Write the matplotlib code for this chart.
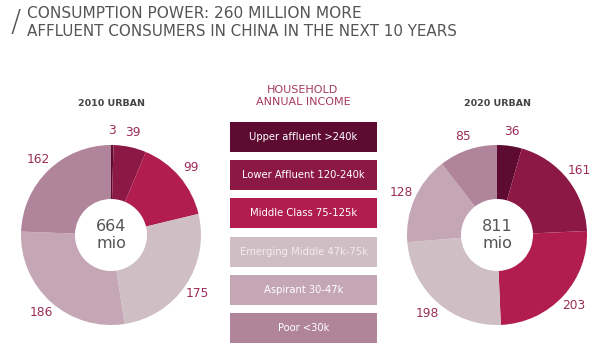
import matplotlib.pyplot as plt

# income segments (clockwise from top)
segments = ["Upper affluent >240k", "Lower Affluent 120-240k", "Middle Class 75-125k",
            "Emerging Middle 47k-75k", "Aspirant 30-47k", "Poor <30k"]
colors = ["#5e0b31", "#8c1846", "#b01d4e", "#cfbfc5", "#c5a6b4", "#b0849a"]
text_colors = ["white", "white", "white", "#f2eaee", "white", "white"]

urban_2010 = [3, 39, 99, 175, 186, 162]
urban_2020 = [36, 161, 203, 198, 128, 85]
totals = ["664\nmio", "811\nmio"]
pie_titles = ["2010 URBAN", "2020 URBAN"]

W, H = 600, 352
fig = plt.figure(figsize=(6, 3.52), dpi=100)
fig.patch.set_facecolor("white")

# title
fig.text(11 / W, 1 - 22 / H, "/", fontsize=22, color="#555555", va="center", ha="left",
         fontweight="light")
fig.text(27 / W, 1 - 14 / H, "CONSUMPTION POWER: 260 MILLION MORE", fontsize=11.1,
         color="#555555", va="center", ha="left")
fig.text(27 / W, 1 - 31 / H, "AFFLUENT CONSUMERS IN CHINA IN THE NEXT 10 YEARS", fontsize=10.9,
         color="#555555", va="center", ha="left")


def donut(cx, cy, values, title, total):
    r = 90
    ax = fig.add_axes([(cx - r) / W, (H - cy - r) / H, 2 * r / W, 2 * r / H])
    ax.pie(values, colors=colors, startangle=90, counterclock=False, radius=1,
           labels=[str(v) for v in values], labeldistance=1.16,
           textprops=dict(color="#9b2c58", fontsize=8.8, ha="center", va="center"),
           wedgeprops=dict(width=0.6, edgecolor="none"))
    ax.set_xlim(-1, 1)
    ax.set_ylim(-1, 1)
    ax.set_aspect("equal")
    ax.axis("off")
    ax.text(0, 0, total, ha="center", va="center", fontsize=11.5, color="#555555",
            linespacing=1.1)
    fig.text(cx / W, 1 - 104 / H, title, ha="center", va="center", fontsize=6.8,
             fontweight="semibold", color="#444444")


donut(111, 235, urban_2010, pie_titles[0], totals[0])
donut(497, 235, urban_2020, pie_titles[1], totals[1])

# legend as horizontal bars
fig.text(303 / W, 1 - 96 / H, "HOUSEHOLD\nANNUAL INCOME", ha="center", va="center",
         fontsize=8, color="#a63a5e", linespacing=1.2)
h = 0.785
lax = fig.add_axes([230 / W, 9 / H, 147 / W, 221 / H])
ypos = list(range(len(segments)))
lax.barh(ypos, [1] * len(segments), height=h, color=colors)
lax.set_xlim(0, 1)
lax.set_ylim(len(segments) - 1 + h / 2, -h / 2)
lax.axis("off")
for y, lab, tc in zip(ypos, segments, text_colors):
    lax.text(0.5, y, lab, ha="center", va="center", fontsize=7.2, color=tc)

fig.savefig("out.png", dpi=100)
plt.close(fig)
